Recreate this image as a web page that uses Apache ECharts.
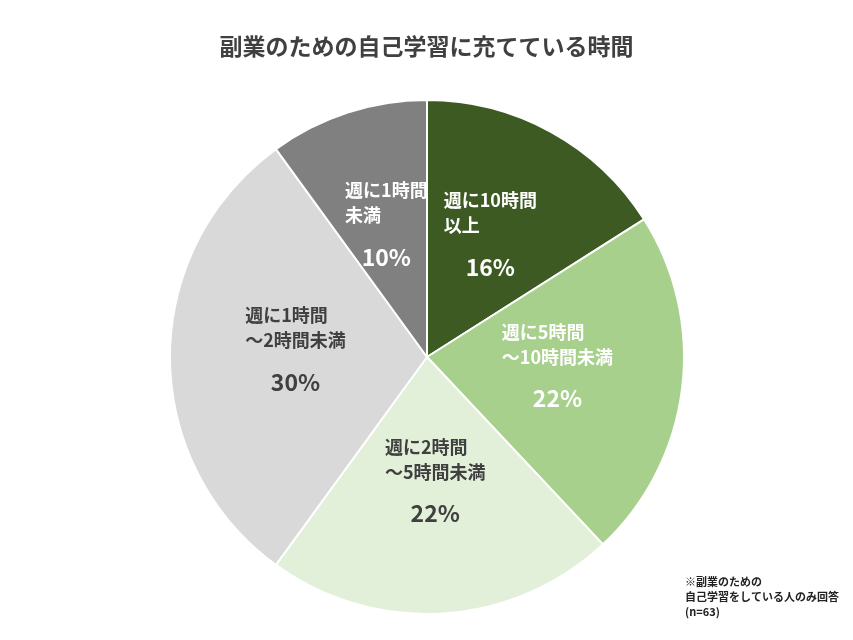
<!DOCTYPE html>
<html><head><meta charset="utf-8">
<script src="https://cdn.jsdelivr.net/npm/echarts@6/dist/echarts.min.js"></script>
<style>html,body{margin:0;background:#fff}#c{width:853px;height:640px}</style>
</head><body><div id="c"></div>
<script>
const categories = ['週に10時間\n以上', '週に5時間\n～10時間未満', '週に2時間\n～5時間未満', '週に1時間\n～2時間未満', '週に1時間\n未満'];
const values = [16, 22, 22, 30, 10];
const colors = ['#3d5a22', '#a8d08d', '#e2efd9', '#d9d9d9', '#808080'];
const labelColors = ['#ffffff', '#ffffff', '#404040', '#404040', '#ffffff'];
const font = '"Noto Sans CJK JP", "Noto Sans", sans-serif';
const chart = echarts.init(document.getElementById('c'));
chart.setOption({
  animation: false,
  title: [{
    text: '副業のための自己学習に充てている時間', left: 'center', top: 30,
    textStyle: { fontFamily: font, fontSize: 23, fontWeight: 'bold', color: '#404040' }
  }],
  graphic: [{
    type: 'text', right: 14, top: 574,
    style: { text: '※副業のための\n自己学習をしている人のみ回答\n(n=63)', align: 'right',
      font: 'bold 11px ' + font, fill: '#222', lineHeight: 15 }
  }],
  series: [{
    type: 'pie', center: [427, 357], radius: 257, startAngle: 90, clockwise: true,
    itemStyle: { borderColor: '#fff', borderWidth: 2 },
    label: {
      position: 'inside', fontFamily: font,
      formatter: p => '{a|' + p.name + '}\n{b|' + p.value + '%}',
      rich: {
        a: { fontFamily: font, fontSize: 18, fontWeight: 'bold', lineHeight: 25, align: 'left' },
        b: { fontFamily: font, fontSize: 23, fontWeight: 'bold', lineHeight: 58 }
      }
    },
    labelLine: { show: false },
    data: categories.map((n, i) => ({
      name: n, value: values[i],
      itemStyle: { color: colors[i] },
      label: { color: labelColors[i], rich: { a: { color: labelColors[i] }, b: { color: labelColors[i] } } }
    }))
  }]
});
</script></body></html>
